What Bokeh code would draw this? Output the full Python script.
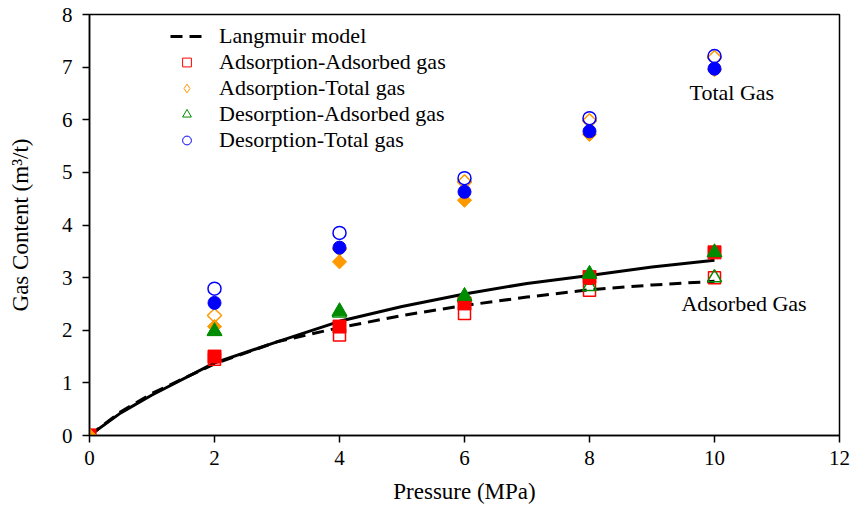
import math
from bokeh.plotting import figure
from bokeh.models import Legend, LegendItem, Label, FixedTicker, Range1d
from bokeh.embed import file_html
from bokeh.resources import INLINE

# ---- data ----
x_ticks = [0, 2, 4, 6, 8, 10, 12]
y_ticks = [0, 1, 2, 3, 4, 5, 6, 7, 8]

model_p = [0, 0.5, 1, 2, 3, 4, 5, 6, 7, 8, 9, 10]
langmuir_dashed = [0, 0.45, 0.80, 1.36, 1.78, 2.05, 2.28, 2.47, 2.63, 2.77, 2.86, 2.93]
langmuir_solid = [0, 0.43, 0.77, 1.38, 1.78, 2.17, 2.45, 2.69, 2.89, 3.04, 3.20, 3.33]

p_ads = [0, 2, 4, 6, 8, 10]
ads_adsorbed_open = [0, 1.45, 1.91, 2.32, 2.76, 3.00]
ads_adsorbed_filled = [0, 1.50, 2.07, 2.51, 3.01, 3.48]
ads_total_open = [0, 2.28, 3.55, 4.82, 5.98, 7.18]
ads_total_filled = [0, 2.07, 3.30, 4.47, 5.72, 6.95]

p_des = [2, 4, 6, 8, 10]
des_adsorbed_open = [1.98, 2.33, 2.62, 2.83, 3.00]
des_adsorbed_filled = [1.98, 2.36, 2.65, 3.07, 3.48]
des_total_open = [2.79, 3.85, 4.89, 6.03, 7.21]
des_total_filled = [2.52, 3.57, 4.63, 5.78, 6.97]

RED = "#ff0000"
ORANGE = "#ff9900"
GREEN = "#008c00"
BLUE = "#0000ff"
FONT = "Times New Roman"

p = figure(width=851, height=516, output_backend="svg", toolbar_location=None,
           x_range=Range1d(0, 12), y_range=Range1d(0, 8),
           min_border_left=89, min_border_right=12, min_border_top=14, min_border_bottom=81)
p.xgrid.visible = False
p.ygrid.visible = False
p.outline_line_color = "black"
p.outline_line_width = 1.5
p.background_fill_color = "white"
p.border_fill_color = "white"

for ax in (p.xaxis[0], p.yaxis[0]):
    ax.axis_line_width = 1.5
    ax.axis_line_color = "black"
    ax.major_tick_out = 7
    ax.major_tick_in = 0
    ax.minor_tick_out = 0
    ax.minor_tick_in = 0
    ax.major_tick_line_width = 1.5
    ax.major_label_text_font = FONT
    ax.major_label_text_font_size = "21px"
    ax.major_label_text_color = "black"
    ax.axis_label_text_font = FONT
    ax.axis_label_text_font_size = "23px"
    ax.axis_label_text_font_style = "normal"
    ax.axis_label_text_color = "black"

p.xaxis.ticker = FixedTicker(ticks=x_ticks)
p.yaxis.ticker = FixedTicker(ticks=y_ticks)
p.xaxis.axis_label = "Pressure (MPa)"
p.yaxis.axis_label = "Gas Content (m³/t)"
p.xaxis.major_label_standoff = 8
p.yaxis.major_label_standoff = 10
p.xaxis.axis_label_standoff = 11
p.yaxis.axis_label_standoff = 26

# model curves
solid = p.line(model_p, langmuir_solid, line_color="black", line_width=3)
dashed = p.line(model_p, langmuir_dashed, line_color="black", line_width=3, line_dash="12 7")

LW = 1.5
# open markers
p.scatter(p_ads, ads_adsorbed_open, marker="square", size=12, fill_alpha=0,
          line_color=RED, line_width=LW)
p.scatter(p_ads, ads_total_open, marker="square", size=10, angle=math.pi / 4,
          fill_alpha=0, line_color=ORANGE, line_width=LW)
p.scatter(p_des, des_adsorbed_open, marker="triangle", size=14, fill_alpha=0,
          line_color=GREEN, line_width=LW)
p.scatter(p_des, des_total_open, marker="circle", size=13, fill_alpha=0,
          line_color=BLUE, line_width=LW)

# filled markers
p.scatter(p_ads, ads_adsorbed_filled, marker="square", size=13, fill_color=RED, line_color=RED)
p.scatter(p_ads, ads_total_filled, marker="square", size=10, angle=math.pi / 4,
          fill_color=ORANGE, line_color=ORANGE)
p.scatter(p_des, des_adsorbed_filled, marker="triangle", size=15, fill_color=GREEN, line_color=GREEN)
p.scatter(p_des, des_total_filled, marker="circle", size=13, fill_color=BLUE, line_color=BLUE)

# legend-only renderers (hidden in the plot; thin open markers as in the reference legend)
lg_sq = p.scatter(p_ads, ads_adsorbed_open, marker="square", size=11, fill_alpha=0,
                  line_color=RED, line_width=1, visible=False)
lg_di = p.scatter(p_ads, ads_total_open, marker="diamond", size=14, fill_alpha=0,
                  line_color=ORANGE, line_width=1, visible=False)
lg_tr = p.scatter(p_des, des_adsorbed_open, marker="triangle", size=12, fill_alpha=0,
                  line_color=GREEN, line_width=1, visible=False)
lg_ci = p.scatter(p_des, des_total_open, marker="circle", size=11, fill_alpha=0,
                  line_color=BLUE, line_width=1, visible=False)

legend = Legend(items=[
    LegendItem(label="Langmuir model", renderers=[dashed]),
    LegendItem(label="Adsorption-Adsorbed gas", renderers=[lg_sq]),
    LegendItem(label="Adsorption-Total gas", renderers=[lg_di]),
    LegendItem(label="Desorption-Adsorbed gas", renderers=[lg_tr]),
    LegendItem(label="Desorption-Total gas", renderers=[lg_ci]),
], location=(81, 282), border_line_color=None, background_fill_alpha=0,
    label_text_font=FONT, label_text_font_size="22px", label_text_color="black",
    glyph_width=33, glyph_height=22, label_height=22, label_standoff=16,
    spacing=0, padding=5, margin=0, click_policy="none", inactive_fill_alpha=0)
p.add_layout(legend)

p.add_layout(Label(x=9.6, y=6.52, text="Total Gas", text_font=FONT, text_font_size="22px",
                   text_baseline="middle", text_color="black"))
p.add_layout(Label(x=9.47, y=2.51, text="Adsorbed Gas", text_font=FONT, text_font_size="22px",
                   text_baseline="middle", text_color="black"))

open("out.html", "w").write(file_html(p, INLINE))
